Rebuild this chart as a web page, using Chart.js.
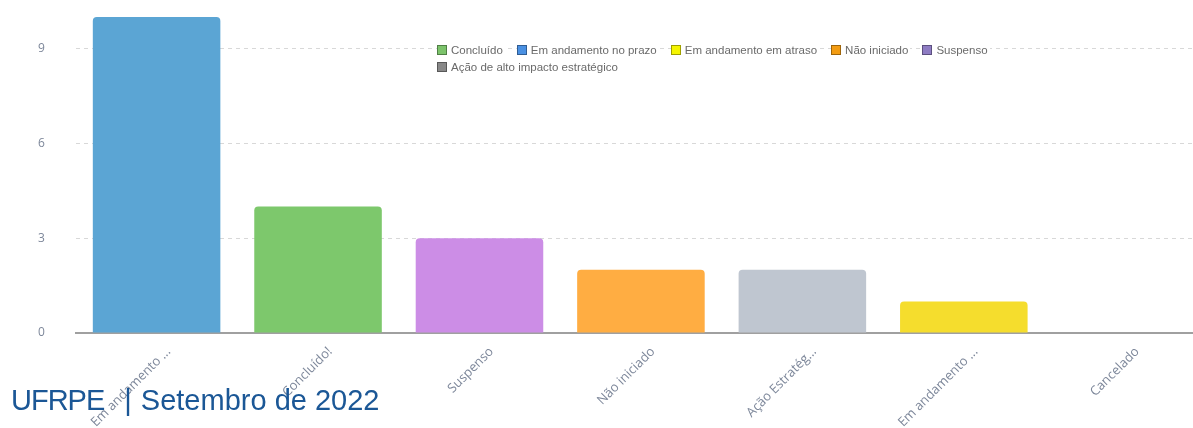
<!DOCTYPE html>
<html>
<head>
<meta charset="utf-8">
<script src="https://cdn.jsdelivr.net/npm/chart.js@4"></script>
<style>
  body { margin: 0; width: 1193px; height: 428px; overflow: hidden; background: #fff; position: relative; }
  #wrap { position: absolute; left: 0; top: 0; width: 1210px; height: 428px; }
  #legend { position: absolute; left: 437px; top: 44px; width: 570px; display: flex; flex-wrap: wrap; column-gap: 12px; row-gap: 5px; font: 11.5px "Liberation Sans", Arial, sans-serif; color: #6a6a6a; }
  .item { display: flex; align-items: center; background: #fff; padding-right: 2px; }
  .box { width: 8px; height: 8px; margin-right: 4px; border: 1px solid rgba(0,0,0,0.35); }
  #footer { position: absolute; left: 11px; top: 384px; font: 29px "Liberation Sans", Arial, sans-serif; color: #1b5796; white-space: pre; }
  #org { letter-spacing: -1px; }
  .sep { margin: 0 9px 0 20px; }
</style>
</head>
<body>
<div id="wrap"><canvas id="myChart" width="1210" height="428"></canvas></div>
<div id="legend"></div>
<div id="footer"><span id="org">UFRPE</span><span class="sep">|</span>Setembro de 2022</div>
<script>
// categories and values
const categories = ['Em andamento ...', 'Concluído!', 'Suspenso', 'Não iniciado', 'Ação Estratég...', 'Em andamento ...', 'Cancelado'];
const counts = [10, 4, 3, 2, 2, 1, 0];
const barColors = ['#5ba5d4', '#7dc86c', '#cc8de6', '#ffad42', '#bfc6d0', '#f5dd2d', '#999999'];
const yTicks = [0, 3, 6, 9];

// legend entries (drawn over the chart, like the original)
const legendLabels = ['Concluído', 'Em andamento no prazo', 'Em andamento em atraso', 'Não iniciado', 'Suspenso', 'Ação de alto impacto estratégico'];
const legendColors = ['#7cc36b', '#4a90e2', '#f5f500', '#f39c12', '#8e7cc3', '#888888'];

function getId(id){
  return document.getElementById(id);
}

function buildLegend(container){
  for(let i = 0; i < legendLabels.length; i++){
    const item = document.createElement('div');
    item.className = 'item';
    const box = document.createElement('span');
    box.className = 'box';
    box.style.background = legendColors[i];
    const txt = document.createElement('span');
    txt.textContent = legendLabels[i];
    item.appendChild(box);
    item.appendChild(txt);
    container.appendChild(item);
  }
}

buildLegend(getId('legend'));

const tickColor = '#7d879a';

const config = {
  type: 'bar',
  data: {
    labels: categories,
    datasets: [{
      data: counts,
      backgroundColor: barColors,
      borderRadius: { topLeft: 4, topRight: 4 },
      borderSkipped: 'bottom',
      categoryPercentage: 1,
      barPercentage: 0.79
    }]
  },
  options: {
    responsive: false,
    animation: false,
    layout: { padding: { left: 7, right: 4, top: 17, bottom: 0 } },
    plugins: {
      legend: { display: false },
      tooltip: { enabled: false }
    },
    scales: {
      x: {
        grid: { display: false },
        border: { display: true, color: '#a0a0a0', width: 2 },
        ticks: {
          minRotation: 45,
          maxRotation: 45,
          labelOffset: 12,
          padding: 3,
          color: tickColor,
          font: { family: 'Open Sans', size: 13 }
        },
        afterFit: (scale) => {
          scale.height = 95;
          scale.paddingLeft = 0;
          scale.paddingRight = 0;
        }
      },
      y: {
        min: 0,
        max: 10,
        grid: { color: '#d8d8d8', drawTicks: false },
        border: { display: false, dash: [4, 4] },
        afterBuildTicks: (scale) => {
          scale.ticks = yTicks.map(v => ({ value: v }));
        },
        ticks: {
          padding: 31,
          color: tickColor,
          font: { family: 'Open Sans', size: 12 }
        },
        afterFit: (scale) => {
          scale.paddingTop = 0;
          scale.paddingBottom = 0;
        }
      }
    }
  }
};

new Chart(getId('myChart'), config);
</script>
</body>
</html>
